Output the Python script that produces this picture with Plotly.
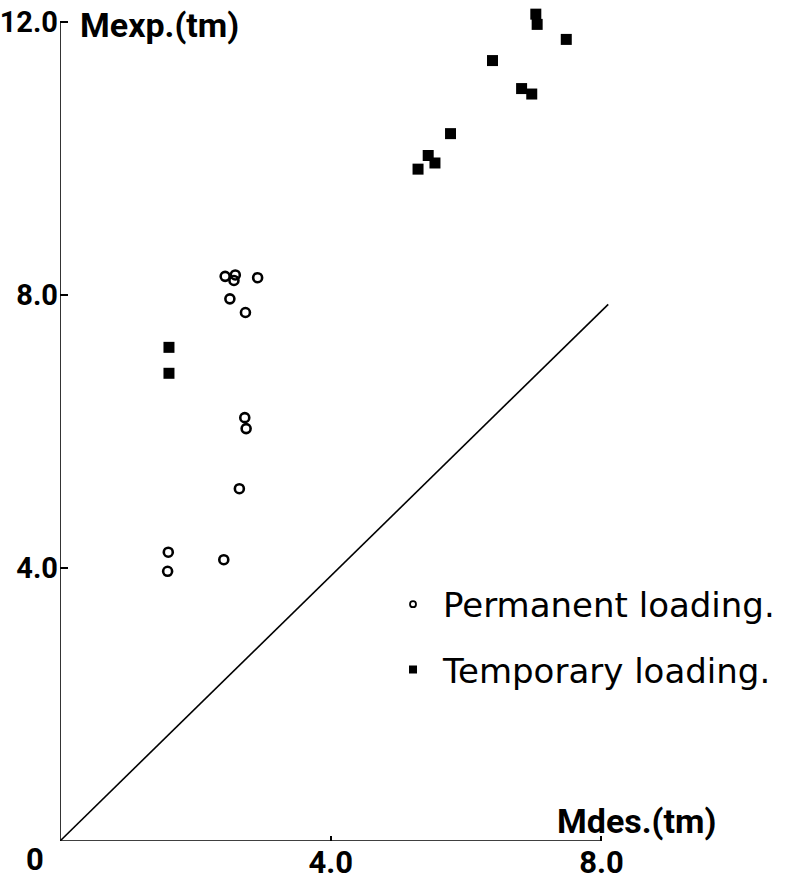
import plotly.graph_objects as go

# Permanent loading (open circles)
perm_x = [2.44, 2.59, 2.57, 2.92, 2.51, 2.74, 2.73, 2.75, 2.65, 1.60, 1.59, 2.42]
perm_y = [8.27, 8.29, 8.21, 8.25, 7.94, 7.74, 6.20, 6.04, 5.16, 4.23, 3.95, 4.12]

# Temporary loading (filled squares)
temp_x = [1.61, 1.61, 7.03, 7.05, 7.48, 6.39, 6.82, 6.97, 5.77, 5.44, 5.54, 5.29]
temp_y = [7.23, 6.85, 12.11, 11.96, 11.74, 11.43, 11.02, 10.94, 10.36, 10.04, 9.93, 9.84]

# Reference line
line_x = [0.0, 8.1]
line_y = [0.0, 7.86]

# Axis extents (axis lines end at these values)
x_max = 8.0
y_max = 12.0

x_tickvals = [4, 8]
x_ticktext = ["4.0", "8.0"]
y_tickvals = [4, 8, 12]
y_ticktext = ["4.0", "8.0", "12.0"]

TICKFONT = dict(family="Roboto", size=31, color="black", weight="bold")
YTICKFONT = dict(family="Roboto", size=29, color="black", weight="bold")
TITLEFONT = dict(family="Roboto", size=34, color="black", weight="bold")
LEGFONT = dict(family="DejaVu Sans", size=34, color="black")

fig = go.Figure()
fig.add_trace(go.Scatter(x=line_x, y=line_y, mode="lines",
                         line=dict(color="black", width=1.6),
                         showlegend=False, hoverinfo="skip", cliponaxis=False))
fig.add_trace(go.Scatter(x=perm_x, y=perm_y, mode="markers", name="Permanent loading.",
                         legendgroup="p", showlegend=False, cliponaxis=False,
                         marker=dict(symbol="circle-open", size=9, color="black",
                                     line=dict(width=2.6, color="black"))))
fig.add_trace(go.Scatter(x=temp_x, y=temp_y, mode="markers", name="Temporary loading.",
                         legendgroup="t", showlegend=False, cliponaxis=False,
                         marker=dict(symbol="square", size=11, color="black")))
# legend entries
fig.add_trace(go.Scatter(x=[None], y=[None], mode="markers", name="Permanent loading.",
                         legendgroup="p",
                         marker=dict(symbol="circle-open", size=6, color="black",
                                     line=dict(width=1.8, color="black"))))
fig.add_trace(go.Scatter(x=[None], y=[None], mode="markers", name="Temporary loading.",
                         legendgroup="t",
                         marker=dict(symbol="square", size=8, color="black")))

# axis lines
fig.add_shape(type="line", xref="x", yref="y", x0=0, y0=0, x1=0, y1=y_max,
              line=dict(color="black", width=1.6), layer="above")
fig.add_shape(type="line", xref="x", yref="y", x0=0, y0=0, x1=x_max, y1=0,
              line=dict(color="black", width=1.6), layer="above")

fig.update_layout(
    width=785, height=885,
    margin=dict(l=60, r=170, t=8, b=44, autoexpand=False),
    paper_bgcolor="white", plot_bgcolor="white",
    showlegend=True,
    legend=dict(x=0.582, y=0.3186, xanchor="left", yanchor="top",
                font=LEGFONT, bgcolor="rgba(0,0,0,0)",
                tracegroupgap=18, itemsizing="trace", itemwidth=50),
    xaxis=dict(range=[0, 8.2], showgrid=False, zeroline=False, automargin=False,
               showline=False,
               ticks="inside", ticklen=5, tickwidth=1.6, tickcolor="black",
               tickvals=x_tickvals, ticktext=x_ticktext,
               tickfont=TICKFONT, ticklabelstandoff=0),
    yaxis=dict(range=[0, 12.2], showgrid=False, zeroline=False, automargin=False,
               showline=False,
               ticks="inside", ticklen=8, tickwidth=1.6, tickcolor="black",
               tickvals=y_tickvals, ticktext=y_ticktext,
               tickfont=YTICKFONT, ticklabelstandoff=1),
    annotations=[
        dict(x=0, y=0, xref="x", yref="y", text="0", showarrow=False,
             xanchor="center", yanchor="middle", xshift=-25, yshift=-18,
             font=TICKFONT),
        dict(x=0, y=12, xref="x", yref="y", text="Mexp.(tm)", showarrow=False,
             xanchor="left", yanchor="middle", xshift=18, yshift=-3,
             font=TITLEFONT),
        dict(x=8, y=0, xref="x", yref="y", text="Mdes.(tm)", showarrow=False,
             xanchor="center", yanchor="middle", xshift=35, yshift=20,
             font=TITLEFONT),
    ],
)

fig.write_html("out.html", config={"displayModeBar": False},
               post_script="document.body.style.margin='0';document.body.style.overflow='hidden';")
